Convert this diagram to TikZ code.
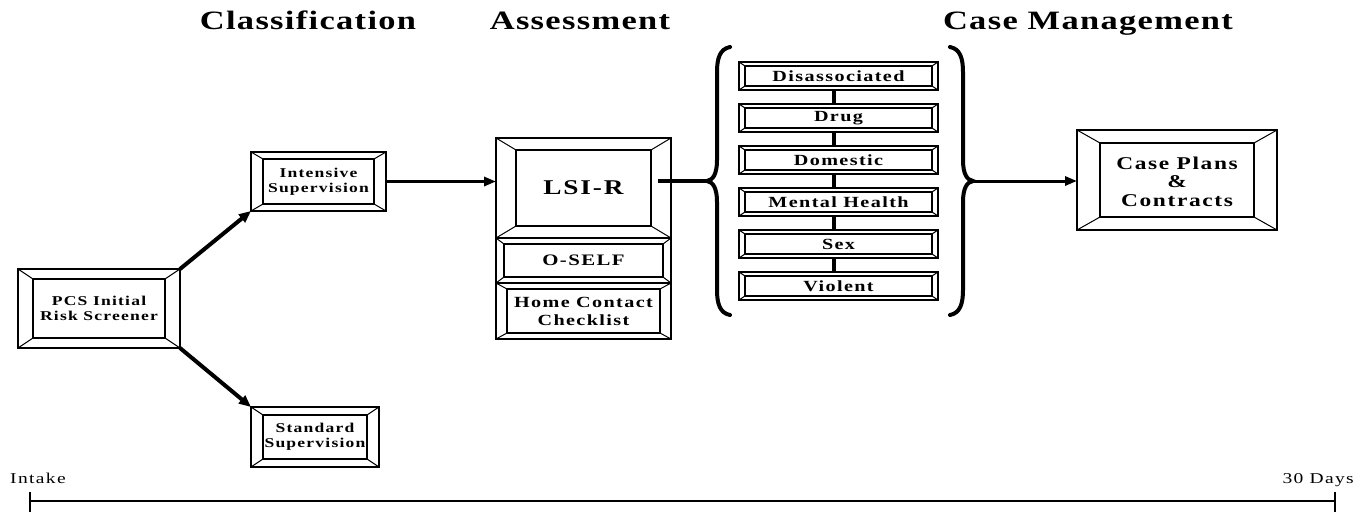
\documentclass[tikz,border=0pt]{standalone}
\usepackage{fontspec}
\setmainfont{Liberation Serif}[FakeStretch=1.3,LetterSpace=9]
\usetikzlibrary{arrows.meta}
\newcommand\myfs[2]{\fontsize{#1}{#2}\selectfont}
\tikzset{
  bevo/.style={draw, line width=1.6pt, outer sep=0pt, inner sep=0pt, align=center, font=\bfseries},
  bevi/.style={line width=1.3pt},
  bevd/.style={line width=1pt},
  conn/.style={line width=3pt, -{Triangle[length=12pt,width=9pt]}},
  diagconn/.style={line width=4pt, -{Triangle[length=12pt,width=10pt]}},
  vline/.style={line width=4pt},
  bracestyle/.style={line width=4pt, line cap=round},
  title/.style={font=\myfs{26.5}{29}\bfseries\addfontfeature{LetterSpace=5}, anchor=base, inner sep=0pt},
  tlabel/.style={font=\myfs{15}{17}, inner sep=0pt},
}
% #1 node options, #2 name, #3 x1, #4 y1, #5 x2, #6 y2, #7 dx, #8 dy, #9 text
\newcommand\bevbox[9][]{%
  \node[bevo, minimum width={#5-#3}, minimum height={#6-#4}, #1] (#2) at ({(#3+#5)/2},{(#4+#6)/2}) {#9};
  \draw[bevi] ([shift={(#7,#8)}]#2.north west) rectangle ([shift={(-#7,-#8)}]#2.south east);
  \draw[bevd] (#2.north west) -- ([shift={(#7,#8)}]#2.north west);
  \draw[bevd] (#2.north east) -- ([shift={(-#7,#8)}]#2.north east);
  \draw[bevd] (#2.south west) -- ([shift={(#7,-#8)}]#2.south west);
  \draw[bevd] (#2.south east) -- ([shift={(-#7,-#8)}]#2.south east);
}
\begin{document}
\begin{tikzpicture}[x=1pt,y=-1pt]
\useasboundingbox (0,0) rectangle (1357,512);

% titles
\node[title] (tclass) at (308,29) {Classification};
\node[title] (tassess) at (580,29) {Assessment};
\node[title] (tcase) at (1088,29) {Case Management};

% classification
\bevbox[font=\myfs{13.5}{15}\bfseries]{pcs}{18}{269}{180}{348}{15}{10}{PCS Initial\\Risk Screener}
\bevbox[font=\myfs{13.5}{15}\bfseries]{int}{251}{152}{386}{211}{12}{7}{Intensive\\Supervision}
\bevbox[font=\myfs{13.5}{15}\bfseries]{std}{251}{407}{379}{467}{12}{8}{Standard\\Supervision}

% assessment
\bevbox[font=\myfs{21}{24}\bfseries]{lsi}{496}{138}{671}{238}{20}{12}{LSI-R}
\bevbox[font=\myfs{16}{18}\bfseries]{oself}{496}{238}{671}{283}{8}{6}{O-SELF}
\bevbox[font=\myfs{15.5}{18}\bfseries]{home}{496}{283}{671}{339}{11}{6}{Home Contact\\Checklist}

% case management types
\bevbox[font=\myfs{15.5}{18}\bfseries]{dis}{739}{62}{938}{90}{6}{4}{Disassociated}
\bevbox[font=\myfs{15.5}{18}\bfseries]{drug}{739}{104}{938}{132}{6}{4}{Drug}
\bevbox[font=\myfs{15.5}{18}\bfseries]{dom}{739}{146}{938}{174}{6}{4}{Domestic}
\bevbox[font=\myfs{15.5}{18}\bfseries]{mh}{739}{188}{938}{216}{6}{4}{Mental Health}
\bevbox[font=\myfs{15.5}{18}\bfseries]{sex}{739}{230}{938}{258}{6}{4}{Sex}
\bevbox[font=\myfs{15.5}{18}\bfseries]{vio}{739}{272}{938}{300}{6}{4}{Violent}

\bevbox[font=\myfs{18}{18.5}\bfseries]{case}{1077}{130}{1277}{230}{23}{13}{\rule{0pt}{16pt}Case Plans\\\&\\Contracts}

% vertical links
\draw[vline] ([xshift=-5pt]dis.south) -- ([xshift=-5pt]drug.north);
\draw[vline] ([xshift=-5pt]drug.south) -- ([xshift=-5pt]dom.north);
\draw[vline] ([xshift=-5pt]dom.south) -- ([xshift=-5pt]mh.north);
\draw[vline] ([xshift=-5pt]mh.south) -- ([xshift=-5pt]sex.north);
\draw[vline] ([xshift=-5pt]sex.south) -- ([xshift=-5pt]vio.north);

% braces
\coordinate (lbtip) at (707,181);
\coordinate (rbtip) at (973,181);
\draw[bracestyle] (730,47) .. controls (720,49) and (717,58) .. (717,72)
  -- (717,160) .. controls (717,174) and (713,180) .. (lbtip)
  .. controls (713,182) and (717,188) .. (717,202)
  -- (717,290) .. controls (717,304) and (720,313) .. (730,315);
\draw[bracestyle] (950,47) .. controls (960,49) and (963,58) .. (963,72)
  -- (963,160) .. controls (963,174) and (967,180) .. (rbtip)
  .. controls (967,182) and (963,188) .. (963,202)
  -- (963,290) .. controls (963,304) and (960,313) .. (950,315);

% connectors
\draw[diagconn] (pcs.north east) -- (int.south west);
\draw[diagconn] (pcs.south east) -- (std.north west);
\draw[conn] (int.east) -- (int.east -| lsi.west);
\path (lsi.east |- lbtip) coordinate (lsiout);
\draw[line width=3.5pt] ([xshift=-13pt]lsiout) -- (lbtip);
\draw[conn] (rbtip) -- (rbtip -| case.west);

% timeline
\coordinate (tl) at (30,501);
\coordinate (tr) at (1335,501);
\draw[line width=2pt] (tl) -- (tr);
\draw[line width=1.5pt] ([yshift=9pt]tl) -- ([yshift=-11pt]tl);
\draw[line width=1.5pt] ([yshift=9pt]tr) -- ([yshift=-11pt]tr);
\node[tlabel, anchor=base west] (intake) at (10,483) {Intake};
\node[tlabel, anchor=base east] (days) at (1354,483) {30 Days};
\end{tikzpicture}
\end{document}
